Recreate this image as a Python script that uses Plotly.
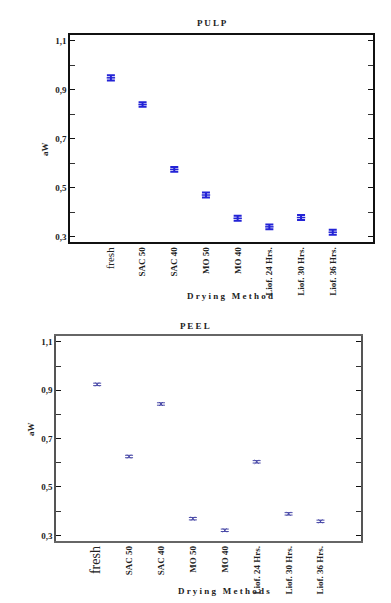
import plotly.graph_objects as go

methods = ["fresh", "SAC 50", "SAC 40", "MO 50", "MO 40",
           "Liof. 24 Hrs.", "Liof. 30 Hrs.", "Liof. 36 Hrs."]
pulp_aw = [0.949, 0.840, 0.575, 0.470, 0.375, 0.340, 0.378, 0.318]
pulp_err = [0.011, 0.009, 0.010, 0.010, 0.010, 0.010, 0.010, 0.010]
peel_aw = [0.924, 0.626, 0.843, 0.369, 0.321, 0.604, 0.389, 0.358]
peel_err = [0.005, 0.005, 0.005, 0.005, 0.005, 0.005, 0.005, 0.005]
y_ticks = [0.3, 0.5, 0.7, 0.9, 1.1]
y_tick_text = ["0,3", "0,5", "0,7", "0,9", "1,1"]

serif = "Liberation Serif"
idx = list(range(len(methods)))

# page has an 8px body margin; figure is sized to fit the remaining window
OFF = 8
W, H = 391 - OFF, 603 - OFF
def px(x):
    return (x - OFF) / W
def py(y):
    return 1 - (y - OFF) / H

fig = go.Figure()
fig.add_trace(go.Scatter(
    x=idx, y=pulp_aw, mode="markers", xaxis="x", yaxis="y",
    marker=dict(symbol="line-ew", size=6, line=dict(width=1.5, color="#2323d6"), color="#2323d6"),
    error_y=dict(type="data", array=pulp_err, color="#2323d6", thickness=2, width=4),
    showlegend=False))
fig.add_trace(go.Scatter(
    x=idx, y=peel_aw, mode="markers", xaxis="x2", yaxis="y2",
    marker=dict(symbol="x-thin", size=4, line=dict(width=1, color="#4a4aa8"), color="#4a4aa8"),
    error_y=dict(type="data", array=peel_err, color="#4a4aa8", thickness=1, width=4),
    showlegend=False))

tickfont = dict(family=serif, size=9, color="#222", weight="bold")

def xaxis(domain, anchor, labels, lc):
    return dict(domain=domain, anchor=anchor, range=[-1.29, 8.27], automargin=False,
                tickmode="array", tickvals=idx, ticktext=labels,
                tickangle=-90, tickfont=tickfont, ticks="",
                showline=True, linecolor=lc, linewidth=1.5, mirror=True,
                showgrid=False, zeroline=False)

def yaxis(domain, anchor, lc):
    return dict(domain=domain, anchor=anchor, range=[0.278, 1.124], automargin=False,
                tickmode="array", tickvals=y_ticks, ticktext=y_tick_text,
                tickfont=tickfont, ticks="inside", ticklen=5, tickcolor="#111",
                minor=dict(dtick=0.1, tick0=0.3, ticks="inside", ticklen=5, tickcolor="#333"),
                showline=True, linecolor=lc, linewidth=1.5, mirror="ticks",
                showgrid=False, zeroline=False)

top_labels = ["<span style='font-weight:normal;font-size:11px'>fresh</span>"] + methods[1:]
bot_labels = ["<span style='font-weight:normal;font-size:14px'>fresh</span>"] + methods[1:]

fig.update_layout(
    template="none",
    width=W, height=H, margin=dict(l=0, r=0, t=0, b=0),
    paper_bgcolor="white", plot_bgcolor="white",
    xaxis=xaxis([px(70), px(373)], "y", top_labels, "#111"),
    yaxis=yaxis([py(242), py(35)], "x", "#111"),
    xaxis2=xaxis([px(56), px(361)], "y2", bot_labels, "#666"),
    yaxis2=yaxis([py(540.7), py(336)], "x2", "#555"),
)

ann_font = dict(family=serif, size=9, color="#222", weight="bold")
anns = [
    dict(text="P U L P", x=px(212), y=py(23)),
    dict(text="D r y i n g   M e t h o d", x=px(230), y=py(296)),
    dict(text="P E E L", x=px(195), y=py(326)),
    dict(text="D r y i n g   M e t h o d s", x=px(224), y=py(591)),
]
for a in anns:
    fig.add_annotation(xref="paper", yref="paper", showarrow=False,
                       xanchor="center", yanchor="middle", font=ann_font, **a)
fig.add_annotation(text="aW", xref="paper", yref="paper", x=px(38), y=py(140),
                   textangle=-90, showarrow=False, font=ann_font)
fig.add_annotation(text="aW", xref="paper", yref="paper", x=px(24), y=py(438),
                   textangle=-90, showarrow=False, font=ann_font)

fig.write_html("out.html")
